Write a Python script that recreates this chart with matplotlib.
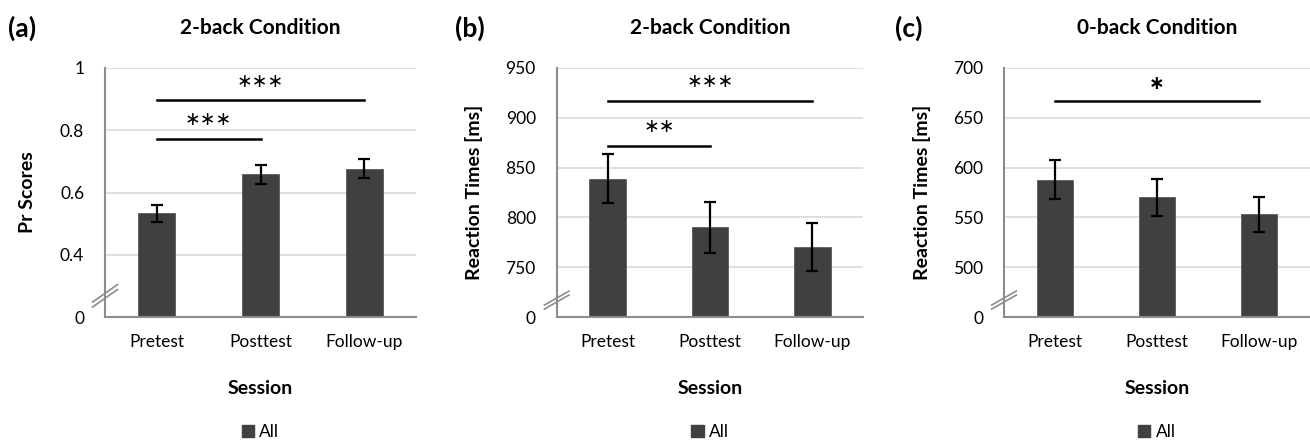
import numpy as np
import matplotlib.pyplot as plt
from matplotlib.patches import Patch

plt.rcParams['font.family'] = ['Lato', 'DejaVu Sans']

# ---- данные ----
sessions = ["Pretest", "Posttest", "Follow-up"]

pr_means = [0.533, 0.658, 0.677]
pr_err = [0.027, 0.030, 0.030]
pr_ticks = [0.2, 0.4, 0.6, 0.8, 1.0]
pr_ticklabels = ["0", "0.4", "0.6", "0.8", "1"]

rt2_means = [839, 790, 770]
rt2_err = [25, 25.5, 24]
rt2_ticks = [700, 750, 800, 850, 900, 950]
rt2_ticklabels = ["0", "750", "800", "850", "900", "950"]

rt0_means = [588, 570, 553]
rt0_err = [19.5, 19, 17.5]
rt0_ticks = [450, 500, 550, 600, 650, 700]
rt0_ticklabels = ["0", "500", "550", "600", "650", "700"]

# значимость: (от, до, уровень линии, уровень звёзд, текст)
pr_sig = [(0, 1, 0.772, 0.834, "***"), (0, 2, 0.897, 0.958, "***")]
rt2_sig = [(0, 1, 871.7, 891, "**"), (0, 2, 917, 936, "***")]
rt0_sig = [(0, 2, 667, 684, "*")]

panels = [
    ("(a)", "2-back Condition", "Pr Scores", pr_means, pr_err, pr_ticks, pr_ticklabels, pr_sig),
    ("(b)", "2-back Condition", "Reaction Times [ms]", rt2_means, rt2_err, rt2_ticks, rt2_ticklabels, rt2_sig),
    ("(c)", "0-back Condition", "Reaction Times [ms]", rt0_means, rt0_err, rt0_ticks, rt0_ticklabels, rt0_sig),
]

W, H = 1310, 442
fig = plt.figure(figsize=(W / 100, H / 100), dpi=100)

# положение осей в пикселях: (левый край, ширина, смещение подписи y)
boxes = [(105, 311, 69), (556.7, 306.7, 73.4), (1004, 306, 73)]
label_x = [8, 455, 895]
bar_color = "#404040"
grid_color = "#d9d9d9"
spine_color = "#8c8c8c"

for i, (tag, title, ylab, means, err, ticks, tlabels, sig) in enumerate(panels):
    left, width, yoff = boxes[i]
    ax = fig.add_axes([left / W, 1 - 317 / H, width / W, (317 - 68) / H])
    x = np.arange(len(sessions))
    ax.bar(x, means, width=0.36, color=bar_color, edgecolor="#5a5a5a", linewidth=0.6, zorder=2)
    ax.errorbar(x, means, yerr=err, fmt="none", ecolor="black", elinewidth=1.6,
                capsize=4, capthick=1.6, zorder=3)
    ax.set_xlim(-0.5, 2.5)
    ax.set_ylim(ticks[0], ticks[-1])
    ax.set_yticks(ticks)
    ax.set_yticklabels(tlabels)
    ax.set_xticks(x)
    ax.set_xticklabels(sessions)
    ax.tick_params(axis="both", length=0, labelsize=12.5, colors="black")
    ax.tick_params(axis="y", pad=15)
    ax.tick_params(axis="x", pad=12)
    for t in ticks[1:]:
        ax.axhline(t, color=grid_color, linewidth=1.2, zorder=0)
    for s in ["top", "right"]:
        ax.spines[s].set_visible(False)
    for s in ["left", "bottom"]:
        ax.spines[s].set_color(spine_color)
        ax.spines[s].set_linewidth(1.5)

    ax.set_ylabel(ylab, fontsize=14, fontweight="bold")
    ax.yaxis.set_label_coords(-yoff / width, 0.5)
    ax.set_xlabel("Session", fontsize=14, fontweight="bold")
    ax.xaxis.set_label_coords(0.5, -0.255)

    # линии значимости
    for a, b, ly, sy, txt in sig:
        ax.plot([a, b], [ly, ly], color="black", linewidth=1.8, zorder=4, clip_on=False)
        stars = "\u2217" * len(txt)
        ax.text((a + b) / 2, sy, stars, ha="center", va="center", fontsize=13.5,
                family="DejaVu Sans", fontweight="bold" if txt == "*" else "normal")

    # разрыв оси
    step = ticks[1] - ticks[0]
    for dy in (0.30, 0.38):
        yc = ticks[0] + dy * step
        ax.plot([-0.62, -0.38], [yc - 0.14 * step, yc + 0.14 * step], color=spine_color,
                linewidth=1.2, clip_on=False, zorder=5)

    cx = (left + width / 2) / W
    fig.text(cx, 1 - 28 / H, title, ha="center", va="center", fontsize=15, fontweight="bold")
    fig.text(label_x[i] / W, 1 - 28 / H, tag, ha="left", va="center", fontsize=19, fontweight="bold")

    fig.legend(handles=[Patch(color=bar_color)], labels=["All"], loc="center",
               bbox_to_anchor=(cx, 1 - 432 / H), frameon=False, fontsize=12.5,
               handlelength=0.7, handleheight=0.7, handletextpad=0.3)

fig.savefig("out.png", dpi=100)
